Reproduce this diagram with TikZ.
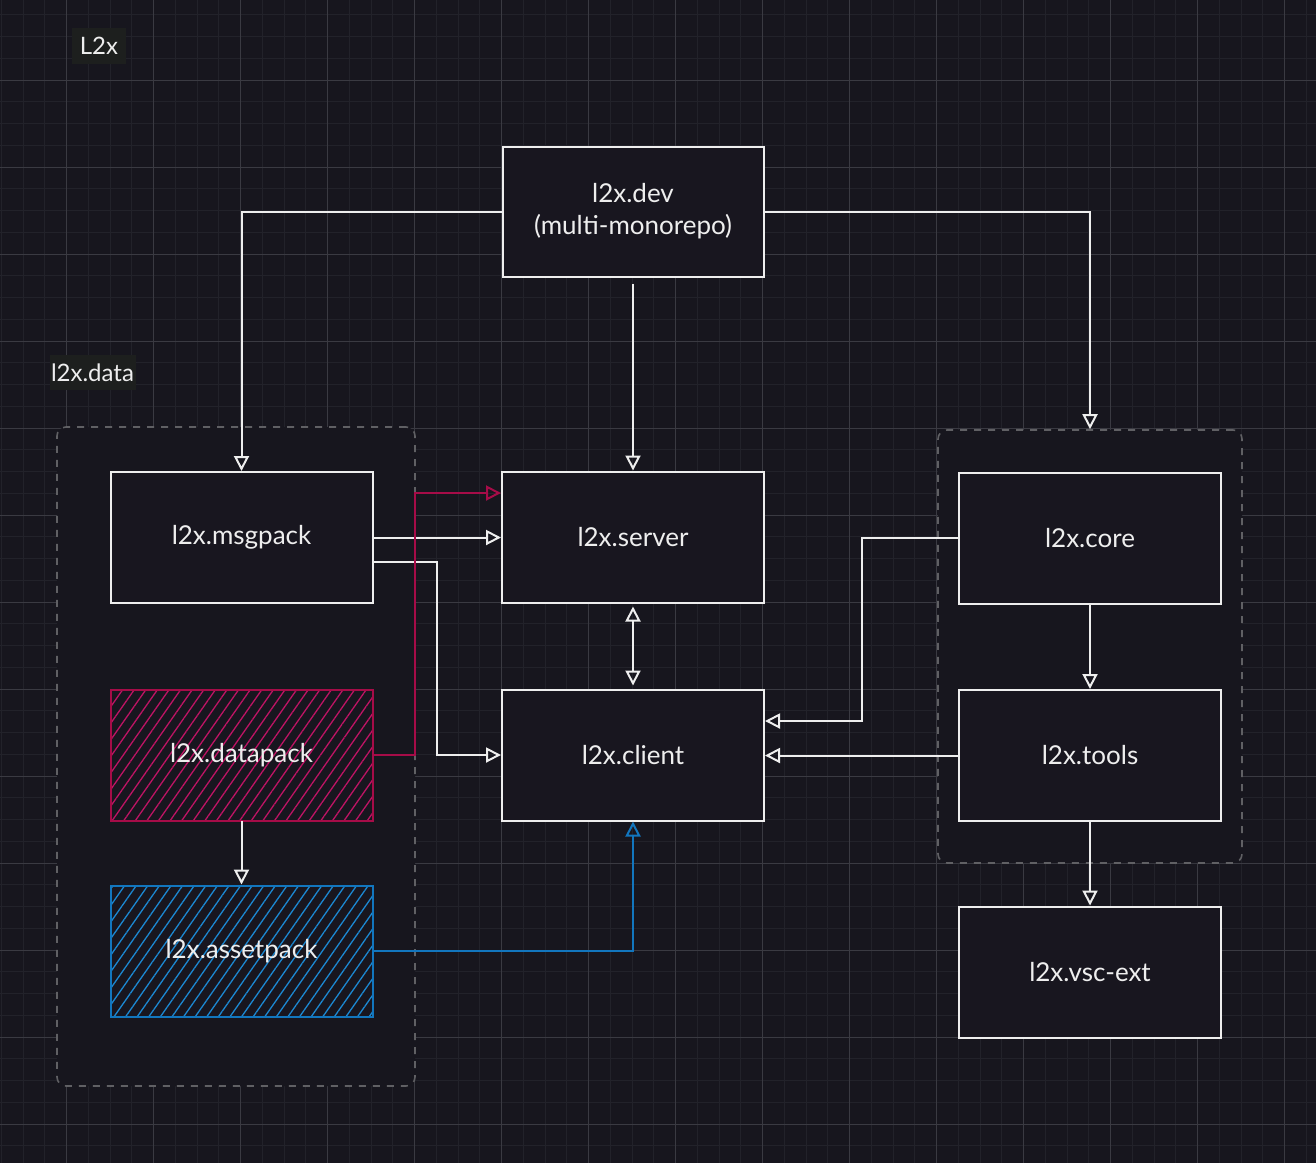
\documentclass[tikz,border=0pt]{standalone}
\usepackage{fontspec}
\setmainfont{Lato}
\usetikzlibrary{arrows.meta,patterns.meta}
\definecolor{bg}{RGB}{23,22,30}
\definecolor{boxfill}{RGB}{24,22,31}
\definecolor{gridminor}{RGB}{34,34,42}
\definecolor{gridmajor}{RGB}{58,58,66}
\definecolor{ink}{RGB}{238,238,238}
\definecolor{crimson}{RGB}{166,12,72}
\definecolor{crimsonhatch}{RGB}{190,20,100}
\definecolor{skyblue}{RGB}{18,118,190}
\definecolor{bluehatch}{RGB}{28,136,210}
\definecolor{dashgray}{RGB}{96,96,100}
\definecolor{labelbg}{RGB}{29,31,30}
\tikzset{
  boxbase/.style={draw=ink, line width=2pt, minimum width=262pt, minimum height=131pt,
    inner sep=0pt, text=ink, font=\fontsize{26}{32}\selectfont, align=center},
  box/.style={boxbase, fill=boxfill},
  hatchred/.style={boxbase, draw=crimson, preaction={fill=boxfill},
    pattern={Lines[angle=55,distance=9.5pt,line width=1.3pt]}, pattern color=crimsonhatch},
  hatchblue/.style={boxbase, draw=skyblue, preaction={fill=boxfill},
    pattern={Lines[angle=55,distance=9.5pt,line width=1.3pt]}, pattern color=bluehatch},
  group/.style={draw=dashgray, dash pattern=on 7pt off 7pt, line width=1.6pt, fill=bg,
    rounded corners=9pt, inner sep=0pt},
  lbl/.style={fill=labelbg, text=ink, font=\fontsize{24}{28}\selectfont, inner sep=0pt},
  conn/.style={draw=ink, line width=2pt, -{Triangle[open,length=15pt,width=15pt]}},
  both/.style={draw=ink, line width=2pt, {Triangle[open,length=15pt,width=15pt]}-{Triangle[open,length=15pt,width=15pt]}},
  minorline/.style={draw=gridminor, line width=1pt},
  majorline/.style={draw=gridmajor, line width=1pt}
}
\begin{document}
\begin{tikzpicture}[x=1pt,y=-1pt]
\fill[bg] (0,0) rectangle (1316,1163);
\useasboundingbox (0,0) rectangle (1316,1163);
% grid
\foreach \i in {0,...,60} \draw[minorline] ({1.25+21.75*\i},0) -- ({1.25+21.75*\i},1163);
\foreach \i in {0,...,53} \draw[minorline] (0,{14.75+21.75*\i}) -- (1316,{14.75+21.75*\i});
\foreach \i in {0,...,14} \draw[majorline] ({66.5+87*\i},0) -- ({66.5+87*\i},1163);
\foreach \i in {0,...,12} \draw[majorline] (0,{80+87*\i}) -- (1316,{80+87*\i});

% groups
\node[group, minimum width=358pt, minimum height=659pt] (datagrp) at (236,756.5) {};
\node[group, minimum width=304pt, minimum height=433pt] (coregrp) at (1090,646.5) {};

% labels
\node[lbl, minimum width=54pt, minimum height=36pt] (toplabel) at (99,46) {L2x};
\node[lbl, minimum width=86pt, minimum height=35pt] (datalabel) at (92.5,372.5) {l2x.data};

% boxes
\node[box, minimum width=261pt, minimum height=130pt] (dev) at (633,211.5) {l2x.dev\\(multi-monorepo)};
\node[box] (msgpack) at (241.5,537.5) {l2x.msgpack};
\node[box] (server) at (633,537) {l2x.server};
\node[box] (client) at (633,755) {l2x.client};
\node[hatchred] (datapack) at (241.5,755) {l2x.datapack};
\node[hatchblue] (assetpack) at (241.5,951) {l2x.assetpack};
\node[box] (core) at (1090,538) {l2x.core};
\node[box] (tools) at (1090,755.5) {l2x.tools};
\node[box] (vsc) at (1090,972) {l2x.vsc-ext};

% connectors
\draw[conn] (dev.west) -| (msgpack.north);
\draw[conn] (dev.east) -| (coregrp.north);
\draw[conn, shorten <=6pt] (dev.south) -- (server.north);
\draw[conn] (msgpack.east) -- (msgpack.east -| server.west);
\draw[conn] ([yshift=-24pt]msgpack.east) -- ++(63,0) |- (client.west);
\draw[conn, draw=crimson] (datapack.east) -- ++(42,0) |- ([yshift=44pt]server.west);
\draw[both, shorten <=3pt, shorten >=3pt] (server.south) -- (client.north);
\draw[conn] (core.west) -- ++(-96,0) |- ([yshift=34pt]client.east);
\draw[conn] (tools.west) -- (tools.west -| client.east);
\draw[conn] (core.south) -- (tools.north);
\draw[conn] (tools.south) -- (vsc.north);
\draw[conn] (datapack.south) -- (assetpack.north);
\draw[conn, draw=skyblue] (assetpack.east) -| (client.south);
\end{tikzpicture}
\end{document}
